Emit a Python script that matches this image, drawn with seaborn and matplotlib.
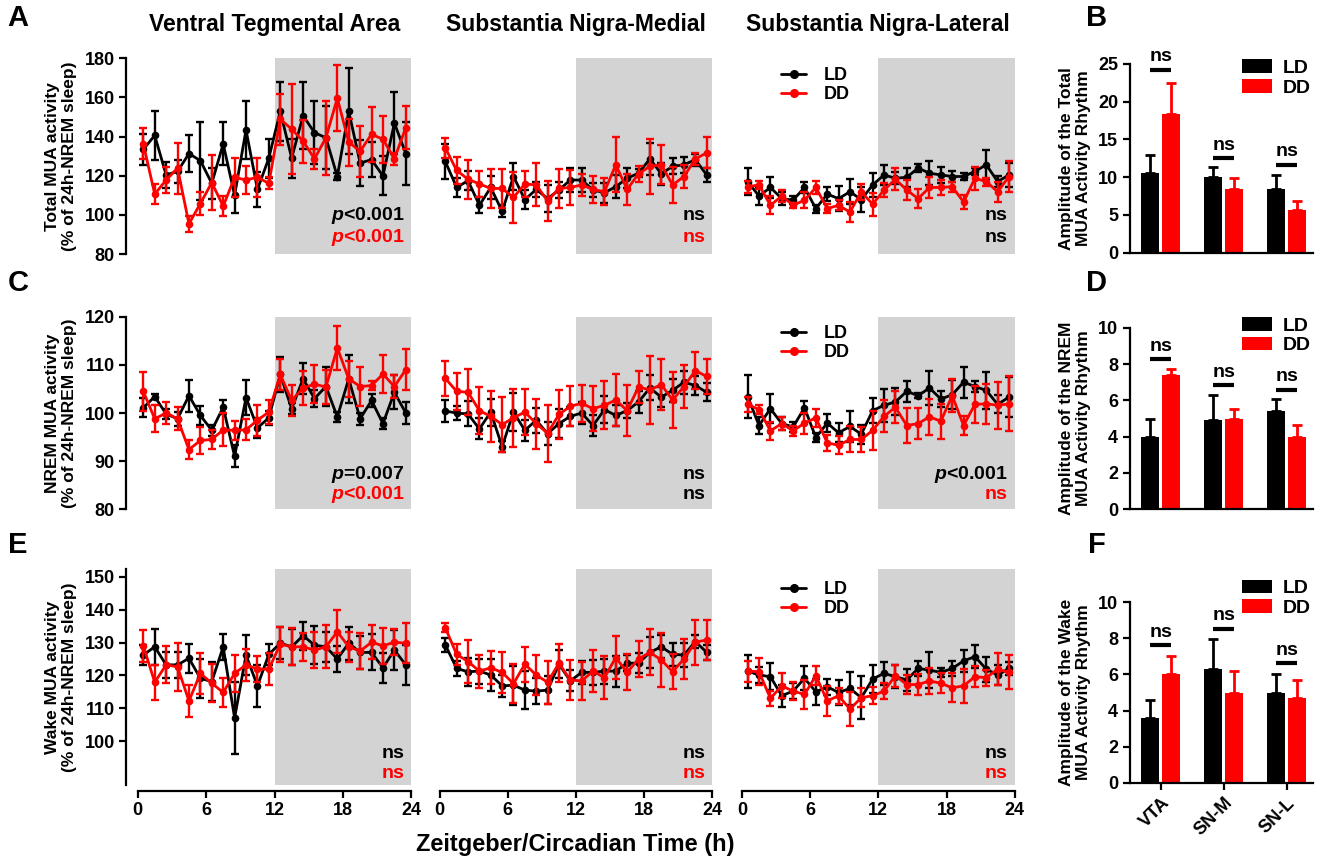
import numpy as np
import pandas as pd
import matplotlib
matplotlib.use('Agg')
import matplotlib.pyplot as plt
from matplotlib.lines import Line2D
from matplotlib.patches import Patch
import seaborn as sns

# time of the recording bins (h)
zt = np.arange(0.5, 24, 1.0)

# ---- Total MUA activity (% of 24h-NREM sleep), mean and sem ----
total_vta_ld = [133.4, 140.6, 120.4, 122.2, 131.3, 127.7, 116.1, 136.3, 110.0, 143.4, 113.0, 129.0,
                152.9, 129.0, 150.7, 142.0, 139.4, 119.6, 152.9, 126.5, 128.2, 119.9, 146.9, 131.3]
total_vta_ld_e = [8, 12.5, 6.5, 6, 9.5, 20, 8, 11, 9, 15, 9, 10, 15, 10, 17, 16, 16, 2, 22, 12, 9, 10, 16, 16]
total_vta_dd = [136.3, 110.6, 117.8, 123.9, 95.4, 105.8, 116.5, 104.4, 119.2, 117.8, 119.2, 116.1,
                148.9, 143.8, 137.7, 128.6, 139.4, 159.6, 137.2, 132.5, 141.2, 138.6, 128.6, 144.6]
total_vta_dd_e = [8, 5, 6.5, 13, 4, 6, 14, 5, 10, 7, 10, 3, 13, 23, 11, 5, 19, 17, 12, 13, 14, 12, 3, 11]

total_snm_ld = [127.3, 114.0, 117.5, 104.9, 114.0, 101.8, 119.6, 107.8, 113.0, 108.3, 112.7, 117.8,
                117.8, 112.7, 111.3, 114.4, 118.7, 121.3, 128.6, 121.0, 124.8, 125.6, 128.2, 120.4]
total_snm_ld_e = [9, 5, 5, 4, 6, 3, 7, 5, 4, 7, 4, 6, 6, 3.5, 5, 6, 5, 2, 8, 5.5, 4, 4, 3, 3.5]
total_snm_dd = [134.3, 122.7, 118.2, 115.8, 113.5, 113.5, 108.9, 115.8, 115.3, 107.1, 113.5, 114.0,
                115.3, 113.0, 111.8, 125.6, 113.0, 121.0, 124.8, 125.6, 115.3, 119.6, 128.6, 131.7]
total_snm_dd_e = [5, 7, 10, 6.5, 10, 10, 13, 6.5, 11, 10, 10, 9, 5.5, 7, 7, 14, 8, 4, 14, 10, 9, 6, 3, 8]

total_snl_ld = [117.0, 109.6, 114.0, 108.3, 107.5, 114.0, 103.2, 110.6, 108.3, 111.8, 107.8, 115.3,
                120.4, 118.7, 119.2, 123.9, 121.3, 120.4, 119.6, 119.6, 122.2, 125.6, 117.0, 120.4]
total_snl_ld_e = [7, 4.5, 5.5, 3.5, 2, 3, 2, 3.5, 6.5, 6.5, 6.5, 6, 5, 3, 5, 2, 6, 4, 3, 2, 2, 7.5, 3, 6]
total_snl_dd = [114.4, 115.3, 104.9, 109.6, 104.9, 107.5, 114.0, 103.2, 104.9, 101.4, 111.8, 105.4,
                112.7, 118.2, 112.7, 108.3, 114.0, 114.0, 114.4, 106.6, 118.7, 117.0, 111.8, 119.6]
total_snl_dd_e = [3, 2, 4.5, 3, 1.2, 4, 3.5, 2.5, 2.5, 5, 4, 6, 3.5, 5.5, 5, 5, 5.5, 4, 2.5, 3.5, 6, 2, 5, 8]

# ---- NREM MUA activity ----
nrem_vta_ld = [101.1, 103.4, 99.8, 98.8, 103.6, 99.5, 96.4, 101.2, 91.0, 103.2, 96.9, 99.0,
               108.0, 100.9, 107.1, 103.0, 105.5, 99.2, 107.1, 98.8, 102.6, 97.8, 104.3, 100.0]
nrem_vta_ld_e = [2, 0.5, 1, 1.5, 3.3, 2, 1.2, 1.5, 2.3, 3.6, 2, 1.5, 3.7, 1.2, 3.2, 1.7, 4, 1, 5, 1.2, 1.4, 1.2, 3.5, 2.2]
nrem_vta_dd = [104.5, 98.8, 100.0, 98.8, 92.4, 94.3, 94.5, 96.5, 96.4, 96.5, 98.5, 100.2,
               108.0, 102.6, 105.2, 106.0, 105.4, 113.5, 107.1, 105.5, 105.7, 108.1, 105.5, 109.0]
nrem_vta_dd_e = [4, 2.8, 2.2, 2.4, 2, 2.8, 2, 3.4, 2, 2.2, 3.2, 2.4, 3.3, 3.2, 3.6, 4, 3.5, 4.6, 3.8, 4, 1, 4, 2.3, 4.2]

nrem_snm_ld = [100.4, 100.0, 99.8, 96.7, 100.2, 93.0, 100.2, 96.4, 98.5, 95.7, 97.8, 99.3,
               100.0, 97.4, 100.7, 99.5, 100.5, 102.3, 105.2, 103.3, 104.7, 106.4, 105.7, 104.3]
nrem_snm_ld_e = [2.3, 1.5, 2.6, 2.2, 2.8, 1.2, 3.9, 2.2, 2.6, 2.4, 3, 1.9, 2.2, 2.1, 2.8, 2.2, 1.6, 2.2, 2.6, 2, 2.4, 2.4, 1.9, 1.9]
nrem_snm_dd = [107.2, 104.5, 104.3, 100.5, 99.3, 97.6, 99.0, 100.2, 97.8, 95.8, 99.7, 101.4,
               102.0, 100.9, 101.6, 102.7, 100.5, 105.4, 104.8, 105.9, 102.7, 105.5, 108.8, 107.6]
nrem_snm_dd_e = [3.6, 3.8, 4.8, 4.9, 5.3, 5.8, 6, 4.8, 5.2, 5.9, 5, 4.2, 3.9, 4.7, 5, 5.3, 5.3, 3.3, 7, 5.3, 5.9, 4.4, 3.8, 3.7]

nrem_snl_ld = [103.4, 97.4, 100.9, 97.8, 97.1, 101.1, 94.9, 97.9, 95.9, 97.2, 95.6, 100.5,
               101.6, 102.3, 104.5, 103.6, 105.2, 102.9, 103.8, 106.4, 105.5, 104.7, 101.8, 103.3]
nrem_snl_ld_e = [4.4, 1.8, 3, 1.4, 1, 1.3, 1, 1.8, 2, 3.3, 2, 2.6, 3.4, 2.8, 2.2, 0.5, 3.6, 1.7, 3, 3.2, 1.2, 3.9, 1.9, 4.1]
nrem_snl_dd = [101.8, 100.7, 96.3, 97.8, 96.3, 97.9, 99.0, 93.8, 93.3, 94.5, 94.5, 96.4,
               99.3, 101.2, 97.4, 97.8, 99.2, 98.3, 103.6, 97.4, 101.8, 101.9, 101.6, 101.9]
nrem_snl_dd_e = [1.5, 1, 1.9, 1.4, 1.1, 2.2, 1.9, 1.7, 1.9, 2.7, 2.6, 4.1, 3.3, 3.3, 3.6, 3.3, 3.8, 3.6, 3.4, 2, 3.9, 4.1, 4.9, 5.7]

# ---- Wake MUA activity ----
wake_vta_ld = [126.2, 128.7, 123.2, 123.2, 125.2, 119.1, 118.1, 128.7, 107.0, 126.2, 116.8, 126.4,
               129.8, 128.7, 132.1, 129.2, 128.7, 125.0, 129.8, 127.0, 127.0, 122.3, 127.7, 123.2]
wake_vta_ld_e = [3, 5.5, 4, 4, 4.4, 6, 6, 4, 11, 6, 6.4, 3.3, 4.8, 5.5, 4.3, 5.8, 4.6, 3.9, 5, 5, 5.5, 4.6, 6, 6]
wake_vta_dd = [129.0, 117.9, 123.2, 122.6, 112.2, 120.6, 117.6, 114.8, 120.6, 123.2, 121.9, 121.9,
               129.5, 128.7, 128.7, 127.7, 128.7, 133.3, 128.7, 127.4, 130.1, 129.0, 130.1, 129.8]
wake_vta_dd_e = [4.8, 5.3, 5.6, 7.3, 4.9, 6.3, 5.8, 4.4, 5.6, 4.9, 4, 4.8, 5.3, 5.6, 4.3, 5.6, 6.5, 6.6, 4.6, 5.4, 5.2, 5.4, 4, 6.1]

wake_snm_ld = [129.3, 122.1, 121.1, 121.3, 120.1, 116.8, 117.0, 115.5, 115.2, 115.5, 123.4, 118.3,
               120.9, 120.9, 121.3, 121.3, 123.7, 123.7, 127.0, 128.7, 126.4, 126.2, 130.3, 127.0]
wake_snm_ld_e = [2.2, 2.4, 4.2, 3.8, 5, 3.3, 6, 5.8, 4, 4.2, 4.3, 3.2, 3.4, 3.7, 3.8, 4.7, 2.5, 3, 4.8, 3.5, 3.6, 3.6, 2, 2.3]
wake_snm_dd = [134.5, 126.4, 124.2, 121.3, 122.3, 120.9, 117.5, 123.4, 120.1, 117.9, 123.7, 118.6,
               118.3, 121.3, 119.3, 125.4, 120.9, 125.0, 127.0, 124.7, 121.1, 125.0, 130.1, 130.8]
wake_snm_dd_e = [1.3, 3.2, 6.5, 5, 5, 6.2, 6, 5.3, 6.2, 6.5, 5.8, 6, 5.7, 6.3, 6.6, 6.6, 5.5, 5.4, 7, 8.1, 5.3, 6.1, 6.9, 6.1]

wake_snl_ld = [121.3, 120.1, 119.6, 113.8, 115.2, 119.1, 115.0, 116.5, 114.8, 116.0, 113.2, 118.9,
               120.6, 119.6, 118.6, 122.1, 121.6, 120.9, 122.1, 124.4, 125.7, 121.9, 120.1, 122.1]
wake_snl_ld_e = [5, 2.5, 4.2, 3.3, 2.5, 3.6, 4, 2.5, 3.8, 5, 6.6, 4.3, 3.6, 3.5, 3.4, 2.4, 5.5, 1.3, 2.4, 3.3, 3.4, 3.8, 3, 2]
wake_snl_dd = [121.3, 121.1, 113.0, 116.8, 115.2, 114.2, 119.9, 112.2, 113.8, 109.7, 113.2, 113.8,
               115.2, 119.9, 117.2, 117.2, 118.3, 117.6, 116.2, 116.8, 119.6, 119.3, 121.9, 120.9]
wake_snl_dd_e = [3.2, 4.1, 2.3, 3.8, 2.8, 4.4, 2.8, 4.6, 2.4, 5.2, 2.8, 2.6, 2.5, 3.3, 3, 3.3, 3.9, 3, 4.4, 5.2, 3.2, 2.4, 4.8, 5.2]

# ---- rhythm amplitudes (bar panels) ----
regions = ['VTA', 'SN-M', 'SN-L']
total_amp_ld = [10.6, 10.0, 8.4]
total_amp_ld_e = [2.3, 1.3, 1.9]
total_amp_dd = [18.4, 8.4, 5.7]
total_amp_dd_e = [4.1, 1.5, 1.2]
nrem_amp_ld = [4.0, 4.9, 5.4]
nrem_amp_ld_e = [0.97, 1.41, 0.69]
nrem_amp_dd = [7.4, 5.0, 4.0]
nrem_amp_dd_e = [0.3, 0.55, 0.64]
wake_amp_ld = [3.6, 6.3, 5.0]
wake_amp_ld_e = [0.96, 1.65, 1.05]
wake_amp_dd = [6.0, 5.0, 4.7]
wake_amp_dd_e = [1.05, 1.2, 1.0]
total_ns_y = [24.2, 12.5, 11.6]
nrem_ns_y = [8.26, 6.84, 6.57]
wake_ns_y = [7.63, 8.52, 6.62]

titles = ['Ventral Tegmental Area', 'Substantia Nigra-Medial', 'Substantia Nigra-Lateral']
row_ylabels = ['Total MUA activity\n(% of 24h-NREM sleep)',
               'NREM MUA activity\n(% of 24h-NREM sleep)',
               'Wake MUA activity\n(% of 24h-NREM sleep)']
bar_ylabels = ['Amplitude of the Total\nMUA Activity Rhythm',
               'Amplitude of the NREM\nMUA Activity Rhythm',
               'Amplitude of the Wake\nMUA Activity Rhythm']
stats_ld = [['p<0.001', 'ns', 'ns'], ['p=0.007', 'ns', 'p<0.001'], ['ns', 'ns', 'ns']]
stats_dd = [['p<0.001', 'ns', 'ns'], ['p<0.001', 'ns', 'ns'], ['ns', 'ns', 'ns']]
stats_dd_col = [['red', 'red', 'black'], ['red', 'black', 'red'], ['red', 'red', 'red']]

traces = [
    [(total_vta_ld, total_vta_ld_e, total_vta_dd, total_vta_dd_e),
     (total_snm_ld, total_snm_ld_e, total_snm_dd, total_snm_dd_e),
     (total_snl_ld, total_snl_ld_e, total_snl_dd, total_snl_dd_e)],
    [(nrem_vta_ld, nrem_vta_ld_e, nrem_vta_dd, nrem_vta_dd_e),
     (nrem_snm_ld, nrem_snm_ld_e, nrem_snm_dd, nrem_snm_dd_e),
     (nrem_snl_ld, nrem_snl_ld_e, nrem_snl_dd, nrem_snl_dd_e)],
    [(wake_vta_ld, wake_vta_ld_e, wake_vta_dd, wake_vta_dd_e),
     (wake_snm_ld, wake_snm_ld_e, wake_snm_dd, wake_snm_dd_e),
     (wake_snl_ld, wake_snl_ld_e, wake_snl_dd, wake_snl_dd_e)],
]
bars = [
    (total_amp_ld, total_amp_ld_e, total_amp_dd, total_amp_dd_e, total_ns_y),
    (nrem_amp_ld, nrem_amp_ld_e, nrem_amp_dd, nrem_amp_dd_e, nrem_ns_y),
    (wake_amp_ld, wake_amp_ld_e, wake_amp_dd, wake_amp_dd_e, wake_ns_y),
]

sns.set_theme(style='ticks')
plt.rcParams['font.family'] = ['Liberation Sans', 'DejaVu Sans']
plt.rcParams['font.weight'] = 'bold'
plt.rcParams['axes.labelweight'] = 'bold'
plt.rcParams['mathtext.fontset'] = 'custom'
plt.rcParams['mathtext.it'] = 'Liberation Sans:italic:bold'
plt.rcParams['mathtext.rm'] = 'Liberation Sans:bold'
plt.rcParams['axes.linewidth'] = 1.6
plt.rcParams['xtick.major.width'] = 1.6
plt.rcParams['ytick.major.width'] = 1.6
for key in ['text.color', 'axes.labelcolor', 'axes.edgecolor', 'xtick.color', 'ytick.color',
            'axes.titlecolor']:
    plt.rcParams[key] = 'black'

W, H = 1322, 858
fig = plt.figure(figsize=(W / 100, H / 100), dpi=100)


def px_axes(x0, y0, x1, y1):
    return fig.add_axes([x0 / W, 1 - y1 / H, (x1 - x0) / W, (y1 - y0) / H])


col_px = [(137.6, 411.5), (439.6, 712.4), (742.0, 1014.7)]
row_px = [(58.3, 254.0), (316.7, 509.3), (569.0, 785.0)]
row_ylim = [(80, 180), (80, 120), (86.6, 152.4)]
row_ticks = [[80, 100, 120, 140, 160, 180], [80, 90, 100, 110, 120], [100, 110, 120, 130, 140, 150]]
stat_px = [(215, 238), (475, 495), (753, 773)]      # text centres (pixels from top)
leg_top_px = [67.5, 325.5, 581.5]

for r in range(3):
    for c in range(3):
        ld, ld_e, dd, dd_e = traces[r][c]
        ax = px_axes(col_px[c][0], row_px[r][0], col_px[c][1], row_px[r][1])
        ax.axvspan(12, 24, color='#d3d3d3', lw=0, zorder=0)
        ax.errorbar(zt, ld, yerr=ld_e, fmt='none', ecolor='black', elinewidth=1.7,
                    capsize=2.8, capthick=1.7, zorder=2)
        sns.lineplot(x=zt, y=ld, color='black', marker='o', markersize=5.5, markeredgewidth=0,
                     linewidth=2.0, ax=ax, zorder=3)
        ax.errorbar(zt, dd, yerr=dd_e, fmt='none', ecolor='red', elinewidth=1.7,
                    capsize=2.8, capthick=1.7, zorder=4)
        sns.lineplot(x=zt, y=dd, color='red', marker='o', markersize=5.5, markeredgewidth=0,
                     linewidth=2.0, ax=ax, zorder=5)
        ax.set_xlim(0, 24)
        ax.set_ylim(*row_ylim[r])
        ax.set_xlabel('')
        ax.set_ylabel('')
        for s in ['top', 'right']:
            ax.spines[s].set_visible(False)
        if c == 0:
            ax.spines['left'].set_position(('outward', 8))
            ax.set_yticks(row_ticks[r])
            ax.tick_params(axis='y', labelsize=13, length=5)
            ax.set_ylabel(row_ylabels[r], fontsize=12.5, fontweight='bold', labelpad=5)
        else:
            ax.spines['left'].set_visible(False)
            ax.set_yticks([])
        if r == 2:
            ax.spines['bottom'].set_position(('outward', 4))
            ax.set_xticks([0, 6, 12, 18, 24])
            ax.tick_params(axis='x', labelsize=13, length=5)
        else:
            ax.spines['bottom'].set_visible(False)
            ax.set_xticks([])
        for lab in ax.get_xticklabels() + ax.get_yticklabels():
            lab.set_fontweight('bold')

        t_ld = stats_ld[r][c].replace('p', '$p$')
        t_dd = stats_dd[r][c].replace('p', '$p$')
        x_txt = (col_px[c][0] + 0.975 * (col_px[c][1] - col_px[c][0])) / W
        fig.text(x_txt, 1 - stat_px[r][0] / H, t_ld, ha='right', va='center',
                 fontsize=14, fontweight='bold', color='black', zorder=10)
        fig.text(x_txt, 1 - stat_px[r][1] / H, t_dd, ha='right', va='center',
                 fontsize=14, fontweight='bold', color=stats_dd_col[r][c], zorder=10)

        if r == 0:
            ax.set_title(titles[c], fontsize=16.5, fontweight='bold', pad=20)
        if c == 2:
            handles = [Line2D([], [], color='black', marker='o', markersize=5.5, lw=2.0),
                       Line2D([], [], color='red', marker='o', markersize=5.5, lw=2.0)]
            ax.legend(handles, ['LD', 'DD'], loc='upper left',
                      bbox_to_anchor=(781 / W, 1 - leg_top_px[r] / H),
                      bbox_transform=fig.transFigure,
                      frameon=False, fontsize=13, handlelength=1.4, handletextpad=0.95,
                      labelspacing=0.1, borderaxespad=0, borderpad=0)

# ---- bar panels ----
bar_rows = [(64.0, 252.7, 25, [0, 5, 10, 15, 20, 25]),
            (327.7, 509.3, 10, [0, 2, 4, 6, 8, 10]),
            (602.3, 782.7, 10, [0, 2, 4, 6, 8, 10])]
bar_leg_top = [59.5, 317, 579.5]
for r in range(3):
    ld, ld_e, dd, dd_e, ns_y = bars[r]
    y0, y1, ytop, yt = bar_rows[r]
    ax = px_axes(1130, y0, 1313, y1)
    bdf = pd.DataFrame({'region': regions * 2, 'amp': ld + dd,
                        'cond': ['LD'] * 3 + ['DD'] * 3})
    sns.barplot(data=bdf, x='region', y='amp', hue='cond', palette={'LD': 'black', 'DD': 'red'},
                width=0.67, gap=0.15, saturation=1, linewidth=0, errorbar=None,
                legend=False, ax=ax)
    for cont, err, col in zip(ax.containers, [ld_e, dd_e], ['black', 'red']):
        xs = [b.get_x() + b.get_width() / 2 for b in cont]
        hs = [b.get_height() for b in cont]
        ax.errorbar(xs, hs, yerr=[np.zeros(3), err], fmt='none', ecolor=col,
                    elinewidth=2, capsize=3.5, capthick=2, zorder=3)
    xl = [b.get_x() + b.get_width() / 2 for b in ax.containers[0]]
    xd = [b.get_x() + b.get_width() / 2 for b in ax.containers[1]]
    for i in range(3):
        ax.plot([xl[i], xd[i]], [ns_y[i], ns_y[i]], color='black', lw=3, solid_capstyle='butt')
        ax.text((xl[i] + xd[i]) / 2, ns_y[i] + ytop * 0.025, 'ns', ha='center', va='bottom',
                fontsize=14, fontweight='bold')
    ax.set_xlim(-0.49, 2.42)
    ax.set_ylim(0, ytop)
    ax.set_yticks(yt)
    ax.set_xlabel('')
    ax.set_ylabel(bar_ylabels[r], fontsize=12.5, fontweight='bold', labelpad=5)
    for s in ['top', 'right']:
        ax.spines[s].set_visible(False)
    ax.tick_params(axis='y', labelsize=13, length=5)
    if r == 2:
        ax.tick_params(axis='x', labelsize=13, length=5)
        plt.setp(ax.get_xticklabels(), rotation=45, ha='right', rotation_mode='anchor')
    else:
        ax.set_xticklabels([])
        ax.tick_params(axis='x', length=0)
    for lab in ax.get_xticklabels() + ax.get_yticklabels():
        lab.set_fontweight('bold')
    handles = [Patch(facecolor='black', edgecolor='none'), Patch(facecolor='red', edgecolor='none')]
    ax.legend(handles, ['LD', 'DD'], loc='upper left',
              bbox_to_anchor=(1242 / W, 1 - bar_leg_top[r] / H), bbox_transform=fig.transFigure,
              frameon=False, fontsize=14, handlelength=1.55, handleheight=0.7,
              handletextpad=0.55, labelspacing=0.1, borderaxespad=0, borderpad=0)

# panel letters and common x label
for letter, (x, y) in zip('ABCDEF', [(18, 18), (1097, 18), (18, 283), (1097, 283),
                                      (18, 545), (1097, 545)]):
    fig.text(x / W, 1 - y / H, letter, fontsize=21, fontweight='bold', ha='center', va='center')
fig.text(575 / W, 1 - 845 / H, 'Zeitgeber/Circadian Time (h)', fontsize=17,
         fontweight='bold', ha='center', va='center')

fig.savefig('out.png', dpi=100)
